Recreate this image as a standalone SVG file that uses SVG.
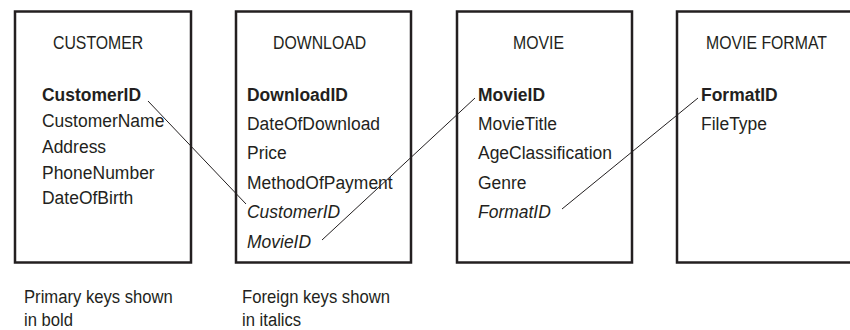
<svg xmlns="http://www.w3.org/2000/svg" width="850" height="330" viewBox="0 0 850 330">
<style>
.box{fill:#fff;stroke:#231f20;stroke-width:2.5}
text{font-family:"Liberation Sans",Arial,sans-serif;fill:#231f20}
.t{font-size:18px}
.a{font-size:19px}
.b{font-weight:bold}
.i{font-style:italic}
.n{font-size:18.5px}
.c{stroke:#231f20;stroke-width:1;fill:none}
</style>
<rect width="850" height="330" fill="#fff"/>
<g id="customer">
<rect class="box" x="15" y="11.5" width="176" height="251"/>
<text class="t" transform="translate(53 49) scale(.88 1)">CUSTOMER</text>
<text class="a b" transform="translate(42 101) scale(.92 1)">CustomerID</text>
<text class="a" transform="translate(42 127) scale(.92 1)">CustomerName</text>
<text class="a" transform="translate(42 153) scale(.92 1)">Address</text>
<text class="a" transform="translate(42 178.5) scale(.92 1)">PhoneNumber</text>
<text class="a" transform="translate(42 204) scale(.92 1)">DateOfBirth</text>
</g>
<g id="download">
<rect class="box" x="236" y="11.5" width="175" height="251"/>
<text class="t" transform="translate(273 49) scale(.88 1)">DOWNLOAD</text>
<text class="a b" transform="translate(247 101) scale(.92 1)">DownloadID</text>
<text class="a" transform="translate(247 130) scale(.92 1)">DateOfDownload</text>
<text class="a" transform="translate(247 159) scale(.92 1)">Price</text>
<text class="a" transform="translate(247 189) scale(.92 1)">MethodOfPayment</text>
<text class="a i" transform="translate(247 218) scale(.92 1)">CustomerID</text>
<text class="a i" transform="translate(247 248) scale(.92 1)">MovieID</text>
</g>
<g id="movie">
<rect class="box" x="457" y="11.5" width="175" height="251"/>
<text class="t" transform="translate(513 49) scale(.88 1)">MOVIE</text>
<text class="a b" transform="translate(478 101) scale(.92 1)">MovieID</text>
<text class="a" transform="translate(478 130) scale(.92 1)">MovieTitle</text>
<text class="a" transform="translate(478 159) scale(.92 1)">AgeClassification</text>
<text class="a" transform="translate(478 189) scale(.92 1)">Genre</text>
<text class="a i" transform="translate(478 218) scale(.92 1)">FormatID</text>
</g>
<g id="movie-format">
<rect class="box" x="677" y="11.5" width="200" height="251"/>
<text class="t" transform="translate(706 49) scale(.88 1)">MOVIE FORMAT</text>
<text class="a b" transform="translate(701 101) scale(.92 1)">FormatID</text>
<text class="a" transform="translate(701 130) scale(.92 1)">FileType</text>
</g>
<g id="notes">
<text class="n" transform="translate(24 303) scale(.9 1)">Primary keys shown</text>
<text class="n" transform="translate(24 326) scale(.9 1)">in bold</text>
<text class="n" transform="translate(242 303) scale(.9 1)">Foreign keys shown</text>
<text class="n" transform="translate(242 326) scale(.9 1)">in italics</text>
</g>
<g id="connectors">
<line class="c" x1="148" y1="101" x2="246" y2="204"/>
<line class="c" x1="322" y1="240" x2="475" y2="98"/>
<line class="c" x1="562" y1="209" x2="698" y2="98"/>
</g>
</svg>
